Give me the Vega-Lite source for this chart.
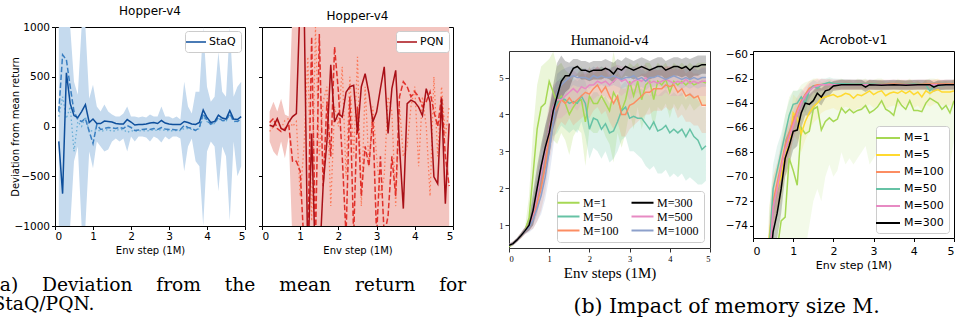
{
"$schema": "https://vega.github.io/schema/vega-lite/v6.json",
"background": "white",
"padding": {"left": -8, "top": 4, "right": 0, "bottom": 0},
"config": {
  "font": "DejaVu Sans",
  "view": {"stroke": "black", "strokeWidth": 1},
  "axis": {"grid": false, "domain": false, "tickColor": "black", "labelColor": "black", "titleColor": "black", "titleFontWeight": "normal", "tickSize": 3.5, "labelPadding": 2, "titlePadding": 3, "labelFont": "DejaVu Sans", "titleFont": "DejaVu Sans", "labelOverlap": false},
  "title": {"fontWeight": "normal", "color": "black", "font": "DejaVu Sans"},
  "legend": {"labelFont": "DejaVu Sans", "labelColor": "black"}
},
"resolve": {"scale": {"color": "independent"}, "legend": {"color": "independent"}},
"datasets": {
"staq": [
{"x":0.1,"s":-150,"d":150,"t":100,"lo":-1000,"hi":1000},
{"x":0.2,"s":-675,"d":720,"t":300,"lo":-1000,"hi":1000},
{"x":0.3,"s":540,"d":670,"t":80,"lo":-1000,"hi":1000},
{"x":0.4,"s":230,"d":400,"t":200,"lo":-1000,"hi":1000},
{"x":0.5,"s":110,"d":150,"t":-250,"lo":-350,"hi":450},
{"x":0.6,"s":90,"d":70,"t":50,"lo":-200,"hi":320},
{"x":0.7,"s":150,"d":50,"t":0,"lo":-1000,"hi":1000},
{"x":0.8,"s":220,"d":80,"t":100,"lo":-1000,"hi":1000},
{"x":0.9,"s":40,"d":-50,"t":-50,"lo":-250,"hi":280},
{"x":1.0,"s":75,"d":-170,"t":-40,"lo":-420,"hi":420},
{"x":1.1,"s":30,"d":20,"t":-30,"lo":-150,"hi":200},
{"x":1.2,"s":30,"d":-30,"t":-50,"lo":-200,"hi":150},
{"x":1.3,"s":55,"d":-20,"t":-40,"lo":-250,"hi":220},
{"x":1.4,"s":50,"d":-10,"t":-30,"lo":-230,"hi":150},
{"x":1.5,"s":45,"d":-15,"t":-50,"lo":-150,"hi":120},
{"x":1.6,"s":30,"d":-20,"t":-40,"lo":-120,"hi":100},
{"x":1.7,"s":25,"d":-10,"t":-30,"lo":-150,"hi":100},
{"x":1.8,"s":25,"d":-20,"t":-30,"lo":-120,"hi":130},
{"x":1.9,"s":70,"d":10,"t":-60,"lo":-250,"hi":200},
{"x":2.0,"s":45,"d":-10,"t":-40,"lo":-100,"hi":100},
{"x":2.1,"s":15,"d":-40,"t":-50,"lo":-150,"hi":100},
{"x":2.2,"s":20,"d":-35,"t":-45,"lo":-100,"hi":90},
{"x":2.3,"s":20,"d":-30,"t":-40,"lo":-100,"hi":100},
{"x":2.4,"s":25,"d":-25,"t":-45,"lo":-110,"hi":90},
{"x":2.5,"s":35,"d":-30,"t":-40,"lo":-150,"hi":120},
{"x":2.6,"s":40,"d":-20,"t":-35,"lo":-100,"hi":100},
{"x":2.7,"s":30,"d":-30,"t":-40,"lo":-120,"hi":100},
{"x":2.8,"s":60,"d":-10,"t":-30,"lo":-160,"hi":200},
{"x":2.9,"s":35,"d":-25,"t":-40,"lo":-100,"hi":100},
{"x":3.0,"s":25,"d":-30,"t":-40,"lo":-130,"hi":100},
{"x":3.1,"s":20,"d":-30,"t":-45,"lo":-100,"hi":80},
{"x":3.2,"s":20,"d":-35,"t":-40,"lo":-100,"hi":100},
{"x":3.3,"s":20,"d":-30,"t":-40,"lo":-120,"hi":70},
{"x":3.4,"s":50,"d":10,"t":-20,"lo":-450,"hi":450},
{"x":3.5,"s":40,"d":-10,"t":-20,"lo":-200,"hi":200},
{"x":3.6,"s":25,"d":-20,"t":-30,"lo":-120,"hi":130},
{"x":3.7,"s":20,"d":-40,"t":-40,"lo":-350,"hi":350},
{"x":3.8,"s":40,"d":-10,"t":-20,"lo":-400,"hi":350},
{"x":3.9,"s":165,"d":130,"t":100,"lo":-1000,"hi":1000},
{"x":4.0,"s":90,"d":60,"t":50,"lo":-250,"hi":400},
{"x":4.1,"s":40,"d":25,"t":20,"lo":-150,"hi":250},
{"x":4.2,"s":50,"d":40,"t":30,"lo":-200,"hi":300},
{"x":4.3,"s":115,"d":90,"t":80,"lo":-650,"hi":750},
{"x":4.4,"s":85,"d":60,"t":60,"lo":-200,"hi":350},
{"x":4.5,"s":75,"d":60,"t":50,"lo":-300,"hi":300},
{"x":4.6,"s":160,"d":130,"t":120,"lo":-950,"hi":1000},
{"x":4.7,"s":75,"d":55,"t":50,"lo":-150,"hi":300},
{"x":4.8,"s":70,"d":50,"t":50,"lo":-500,"hi":400},
{"x":4.9,"s":100,"d":80,"t":70,"lo":-400,"hi":450}
],
"pqn": [
{"x":0.2,"s":12,"d":40,"t":-50,"lo":-150,"hi":150},
{"x":0.3,"s":0,"d":80,"t":0,"lo":-250,"hi":250},
{"x":0.4,"s":80,"d":-20,"t":50,"lo":-300,"hi":150},
{"x":0.5,"s":-20,"d":-50,"t":-20,"lo":-150,"hi":280},
{"x":0.6,"s":-40,"d":-20,"t":60,"lo":-320,"hi":120},
{"x":0.7,"s":45,"d":20,"t":80,"lo":-100,"hi":100},
{"x":0.8,"s":100,"d":-350,"t":0,"lo":-1200,"hi":1200},
{"x":0.9,"s":130,"d":-350,"t":50,"lo":-1200,"hi":1200},
{"x":1.0,"s":1300,"d":-450,"t":-700,"lo":-1200,"hi":1200},
{"x":1.1,"s":1300,"d":-1200,"t":-200,"lo":-1200,"hi":1200},
{"x":1.2,"s":-1400,"d":-1200,"t":700,"lo":-1200,"hi":1200},
{"x":1.3,"s":-70,"d":900,"t":-950,"lo":-1200,"hi":1200},
{"x":1.4,"s":-1400,"d":-1200,"t":1000,"lo":-1200,"hi":1200},
{"x":1.5,"s":-1400,"d":930,"t":-300,"lo":-1200,"hi":1200},
{"x":1.6,"s":-600,"d":-600,"t":250,"lo":-1200,"hi":1200},
{"x":1.7,"s":-150,"d":250,"t":400,"lo":-1200,"hi":1200},
{"x":1.8,"s":620,"d":-300,"t":-800,"lo":-1200,"hi":1200},
{"x":1.9,"s":45,"d":800,"t":200,"lo":-1200,"hi":1200},
{"x":2.0,"s":130,"d":350,"t":0,"lo":-1200,"hi":1200},
{"x":2.1,"s":95,"d":-300,"t":600,"lo":-1200,"hi":1200},
{"x":2.2,"s":345,"d":-1100,"t":-500,"lo":-1200,"hi":1200},
{"x":2.3,"s":400,"d":300,"t":500,"lo":-1200,"hi":1200},
{"x":2.4,"s":415,"d":-1100,"t":-300,"lo":-1200,"hi":1200},
{"x":2.5,"s":-70,"d":200,"t":700,"lo":-1200,"hi":1200},
{"x":2.6,"s":400,"d":-700,"t":-800,"lo":-1200,"hi":1200},
{"x":2.7,"s":530,"d":-200,"t":400,"lo":-1200,"hi":1200},
{"x":2.8,"s":330,"d":-400,"t":-400,"lo":-1200,"hi":1200},
{"x":2.9,"s":45,"d":100,"t":200,"lo":-1200,"hi":1200},
{"x":3.0,"s":145,"d":-1100,"t":-300,"lo":-1200,"hi":1200},
{"x":3.1,"s":380,"d":-300,"t":-700,"lo":-1200,"hi":1200},
{"x":3.2,"s":600,"d":-1100,"t":-500,"lo":-1200,"hi":1200},
{"x":3.3,"s":-70,"d":-900,"t":300,"lo":-1200,"hi":1200},
{"x":3.4,"s":380,"d":-300,"t":150,"lo":-1200,"hi":1200},
{"x":3.5,"s":565,"d":-700,"t":-800,"lo":-1200,"hi":1200},
{"x":3.6,"s":-205,"d":300,"t":200,"lo":-1200,"hi":1200},
{"x":3.7,"s":-825,"d":450,"t":-300,"lo":-1200,"hi":1200},
{"x":3.8,"s":230,"d":400,"t":-200,"lo":-1200,"hi":1200},
{"x":3.9,"s":265,"d":300,"t":200,"lo":-1200,"hi":1200},
{"x":4.0,"s":245,"d":350,"t":400,"lo":-1200,"hi":1200},
{"x":4.1,"s":195,"d":300,"t":-400,"lo":-1200,"hi":1200},
{"x":4.2,"s":110,"d":200,"t":300,"lo":-1200,"hi":1200},
{"x":4.3,"s":380,"d":250,"t":0,"lo":-1200,"hi":1200},
{"x":4.4,"s":245,"d":350,"t":-700,"lo":-1200,"hi":1200},
{"x":4.5,"s":-505,"d":150,"t":500,"lo":-1200,"hi":1200},
{"x":4.6,"s":-575,"d":0,"t":-300,"lo":-1200,"hi":1200},
{"x":4.7,"s":280,"d":300,"t":400,"lo":-1200,"hi":1200},
{"x":4.8,"s":-775,"d":-300,"t":-100,"lo":-1200,"hi":1200},
{"x":4.9,"s":30,"d":-600,"t":200,"lo":-1200,"hi":1200}
],
"hum": [
{"m":"M=1","x":0.0,"y":0.42,"lo":0.38,"hi":0.46},
{"m":"M=1","x":0.1,"y":0.5,"lo":0.45,"hi":0.55},
{"m":"M=1","x":0.2,"y":0.6,"lo":0.55,"hi":0.66},
{"m":"M=1","x":0.3,"y":0.72,"lo":0.65,"hi":0.8},
{"m":"M=1","x":0.4,"y":0.85,"lo":0.78,"hi":0.95},
{"m":"M=1","x":0.5,"y":1.2,"lo":0.9,"hi":1.8},
{"m":"M=1","x":0.6,"y":2.4,"lo":1.3,"hi":3.6},
{"m":"M=1","x":0.7,"y":3.6,"lo":2.2,"hi":4.8},
{"m":"M=1","x":0.8,"y":4.2,"lo":3.0,"hi":5.3},
{"m":"M=1","x":0.9,"y":4.3,"lo":3.2,"hi":5.4},
{"m":"M=1","x":1.0,"y":4.9,"lo":3.6,"hi":5.5},
{"m":"M=1","x":1.1,"y":4.6,"lo":3.3,"hi":5.7},
{"m":"M=1","x":1.2,"y":4.3,"lo":3.2,"hi":5.3},
{"m":"M=1","x":1.3,"y":4.5,"lo":3.5,"hi":5.4},
{"m":"M=1","x":1.4,"y":4.3,"lo":3.3,"hi":5.2},
{"m":"M=1","x":1.5,"y":4.0,"lo":2.9,"hi":5.1},
{"m":"M=1","x":1.6,"y":4.2,"lo":3.4,"hi":5.0},
{"m":"M=1","x":1.7,"y":4.35,"lo":3.6,"hi":5.1},
{"m":"M=1","x":1.8,"y":4.4,"lo":3.5,"hi":5.3},
{"m":"M=1","x":1.9,"y":3.8,"lo":2.6,"hi":5.0},
{"m":"M=1","x":2.0,"y":4.5,"lo":3.6,"hi":5.3},
{"m":"M=1","x":2.1,"y":4.3,"lo":3.5,"hi":5.1},
{"m":"M=1","x":2.2,"y":4.3,"lo":3.5,"hi":5.2},
{"m":"M=1","x":2.3,"y":4.5,"lo":3.7,"hi":5.3},
{"m":"M=1","x":2.4,"y":4.3,"lo":3.4,"hi":5.2},
{"m":"M=1","x":2.5,"y":4.1,"lo":3.2,"hi":5.0},
{"m":"M=1","x":2.6,"y":4.6,"lo":2.7,"hi":5.7},
{"m":"M=1","x":2.7,"y":4.4,"lo":3.5,"hi":5.2},
{"m":"M=1","x":2.8,"y":4.1,"lo":3.1,"hi":5.0},
{"m":"M=1","x":2.9,"y":4.4,"lo":3.5,"hi":5.2},
{"m":"M=1","x":3.0,"y":4.9,"lo":4.1,"hi":5.4},
{"m":"M=1","x":3.1,"y":4.5,"lo":3.6,"hi":5.3},
{"m":"M=1","x":3.2,"y":4.9,"lo":4.2,"hi":5.4},
{"m":"M=1","x":3.3,"y":4.4,"lo":3.6,"hi":5.2},
{"m":"M=1","x":3.4,"y":4.8,"lo":4.0,"hi":5.4},
{"m":"M=1","x":3.5,"y":4.9,"lo":4.2,"hi":5.4},
{"m":"M=1","x":3.6,"y":4.4,"lo":3.6,"hi":5.2},
{"m":"M=1","x":3.7,"y":4.9,"lo":4.2,"hi":5.4},
{"m":"M=1","x":3.8,"y":4.8,"lo":4.1,"hi":5.3},
{"m":"M=1","x":3.9,"y":4.95,"lo":4.3,"hi":5.4},
{"m":"M=1","x":4.0,"y":4.6,"lo":3.9,"hi":5.2},
{"m":"M=1","x":4.1,"y":4.9,"lo":4.3,"hi":5.4},
{"m":"M=1","x":4.2,"y":4.8,"lo":4.1,"hi":5.3},
{"m":"M=1","x":4.3,"y":4.9,"lo":4.3,"hi":5.4},
{"m":"M=1","x":4.4,"y":4.8,"lo":4.1,"hi":5.3},
{"m":"M=1","x":4.5,"y":4.9,"lo":4.3,"hi":5.4},
{"m":"M=1","x":4.6,"y":4.8,"lo":4.1,"hi":5.3},
{"m":"M=1","x":4.7,"y":4.85,"lo":4.2,"hi":5.4},
{"m":"M=1","x":4.8,"y":4.9,"lo":4.3,"hi":5.4},
{"m":"M=1","x":4.9,"y":4.85,"lo":4.2,"hi":5.4},
{"m":"M=50","x":0.0,"y":0.45,"lo":0.4,"hi":0.5},
{"m":"M=50","x":0.1,"y":0.5,"lo":0.45,"hi":0.55},
{"m":"M=50","x":0.2,"y":0.6,"lo":0.55,"hi":0.65},
{"m":"M=50","x":0.3,"y":0.72,"lo":0.66,"hi":0.78},
{"m":"M=50","x":0.4,"y":0.85,"lo":0.78,"hi":0.92},
{"m":"M=50","x":0.5,"y":1.0,"lo":0.9,"hi":1.15},
{"m":"M=50","x":0.6,"y":1.3,"lo":1.0,"hi":1.7},
{"m":"M=50","x":0.7,"y":1.8,"lo":1.3,"hi":2.3},
{"m":"M=50","x":0.8,"y":2.4,"lo":1.8,"hi":3.0},
{"m":"M=50","x":0.9,"y":3.0,"lo":2.3,"hi":3.6},
{"m":"M=50","x":1.0,"y":3.6,"lo":2.9,"hi":4.2},
{"m":"M=50","x":1.1,"y":4.1,"lo":3.4,"hi":4.7},
{"m":"M=50","x":1.2,"y":4.3,"lo":3.5,"hi":4.9},
{"m":"M=50","x":1.3,"y":4.45,"lo":3.7,"hi":5.0},
{"m":"M=50","x":1.4,"y":4.4,"lo":3.6,"hi":5.0},
{"m":"M=50","x":1.5,"y":4.3,"lo":3.5,"hi":4.9},
{"m":"M=50","x":1.6,"y":4.35,"lo":3.6,"hi":5.0},
{"m":"M=50","x":1.7,"y":4.3,"lo":3.5,"hi":4.9},
{"m":"M=50","x":1.8,"y":4.5,"lo":3.8,"hi":5.0},
{"m":"M=50","x":1.9,"y":4.3,"lo":3.4,"hi":4.9},
{"m":"M=50","x":2.0,"y":3.6,"lo":2.8,"hi":4.4},
{"m":"M=50","x":2.1,"y":3.9,"lo":3.1,"hi":4.6},
{"m":"M=50","x":2.2,"y":3.85,"lo":3.0,"hi":4.6},
{"m":"M=50","x":2.3,"y":3.6,"lo":2.8,"hi":4.4},
{"m":"M=50","x":2.4,"y":3.75,"lo":3.0,"hi":4.5},
{"m":"M=50","x":2.5,"y":3.5,"lo":2.7,"hi":4.3},
{"m":"M=50","x":2.6,"y":3.55,"lo":2.8,"hi":4.3},
{"m":"M=50","x":2.7,"y":3.8,"lo":3.0,"hi":4.5},
{"m":"M=50","x":2.8,"y":4.1,"lo":3.3,"hi":4.8},
{"m":"M=50","x":2.9,"y":4.2,"lo":3.4,"hi":4.9},
{"m":"M=50","x":3.0,"y":3.9,"lo":3.0,"hi":4.7},
{"m":"M=50","x":3.1,"y":3.95,"lo":3.0,"hi":4.7},
{"m":"M=50","x":3.2,"y":3.9,"lo":2.9,"hi":4.7},
{"m":"M=50","x":3.3,"y":3.9,"lo":2.8,"hi":4.7},
{"m":"M=50","x":3.4,"y":3.75,"lo":2.6,"hi":4.6},
{"m":"M=50","x":3.5,"y":3.6,"lo":2.5,"hi":4.5},
{"m":"M=50","x":3.6,"y":3.8,"lo":2.6,"hi":4.7},
{"m":"M=50","x":3.7,"y":3.55,"lo":2.4,"hi":4.5},
{"m":"M=50","x":3.8,"y":3.6,"lo":2.4,"hi":4.6},
{"m":"M=50","x":3.9,"y":3.7,"lo":2.5,"hi":4.7},
{"m":"M=50","x":4.0,"y":3.5,"lo":2.3,"hi":4.5},
{"m":"M=50","x":4.1,"y":3.6,"lo":2.4,"hi":4.6},
{"m":"M=50","x":4.2,"y":3.5,"lo":2.3,"hi":4.5},
{"m":"M=50","x":4.3,"y":3.6,"lo":2.4,"hi":4.6},
{"m":"M=50","x":4.4,"y":3.4,"lo":2.2,"hi":4.4},
{"m":"M=50","x":4.5,"y":3.6,"lo":2.3,"hi":4.6},
{"m":"M=50","x":4.6,"y":3.4,"lo":2.2,"hi":4.5},
{"m":"M=50","x":4.7,"y":3.3,"lo":2.1,"hi":4.4},
{"m":"M=50","x":4.8,"y":3.05,"lo":2.1,"hi":4.2},
{"m":"M=50","x":4.9,"y":3.15,"lo":2.2,"hi":4.2},
{"m":"M=100","x":0.0,"y":0.45,"lo":0.4,"hi":0.5},
{"m":"M=100","x":0.1,"y":0.5,"lo":0.45,"hi":0.56},
{"m":"M=100","x":0.2,"y":0.6,"lo":0.54,"hi":0.66},
{"m":"M=100","x":0.3,"y":0.72,"lo":0.64,"hi":0.8},
{"m":"M=100","x":0.4,"y":0.85,"lo":0.75,"hi":0.95},
{"m":"M=100","x":0.5,"y":1.0,"lo":0.85,"hi":1.2},
{"m":"M=100","x":0.6,"y":1.2,"lo":0.9,"hi":1.5},
{"m":"M=100","x":0.7,"y":1.6,"lo":1.1,"hi":2.1},
{"m":"M=100","x":0.8,"y":2.0,"lo":1.4,"hi":2.6},
{"m":"M=100","x":0.9,"y":2.6,"lo":1.9,"hi":3.3},
{"m":"M=100","x":1.0,"y":3.5,"lo":2.7,"hi":4.2},
{"m":"M=100","x":1.1,"y":4.0,"lo":3.3,"hi":4.6},
{"m":"M=100","x":1.2,"y":4.2,"lo":3.6,"hi":4.7},
{"m":"M=100","x":1.3,"y":4.4,"lo":3.8,"hi":4.9},
{"m":"M=100","x":1.4,"y":4.3,"lo":3.7,"hi":4.9},
{"m":"M=100","x":1.5,"y":4.45,"lo":3.9,"hi":5.0},
{"m":"M=100","x":1.6,"y":4.3,"lo":3.7,"hi":4.9},
{"m":"M=100","x":1.7,"y":4.4,"lo":3.8,"hi":5.0},
{"m":"M=100","x":1.8,"y":4.5,"lo":3.9,"hi":5.1},
{"m":"M=100","x":1.9,"y":4.6,"lo":4.0,"hi":5.1},
{"m":"M=100","x":2.0,"y":4.55,"lo":3.9,"hi":5.1},
{"m":"M=100","x":2.1,"y":4.7,"lo":4.1,"hi":5.2},
{"m":"M=100","x":2.2,"y":4.8,"lo":4.2,"hi":5.3},
{"m":"M=100","x":2.3,"y":4.6,"lo":4.0,"hi":5.2},
{"m":"M=100","x":2.4,"y":4.75,"lo":4.1,"hi":5.3},
{"m":"M=100","x":2.5,"y":4.5,"lo":3.8,"hi":5.1},
{"m":"M=100","x":2.6,"y":4.3,"lo":3.6,"hi":5.0},
{"m":"M=100","x":2.7,"y":4.5,"lo":3.8,"hi":5.1},
{"m":"M=100","x":2.8,"y":4.0,"lo":3.4,"hi":4.7},
{"m":"M=100","x":2.9,"y":4.0,"lo":3.4,"hi":4.7},
{"m":"M=100","x":3.0,"y":4.25,"lo":3.6,"hi":4.9},
{"m":"M=100","x":3.1,"y":4.3,"lo":3.7,"hi":4.9},
{"m":"M=100","x":3.2,"y":4.4,"lo":3.8,"hi":5.0},
{"m":"M=100","x":3.3,"y":4.5,"lo":3.9,"hi":5.1},
{"m":"M=100","x":3.4,"y":4.6,"lo":4.0,"hi":5.1},
{"m":"M=100","x":3.5,"y":4.6,"lo":4.0,"hi":5.2},
{"m":"M=100","x":3.6,"y":4.7,"lo":4.1,"hi":5.2},
{"m":"M=100","x":3.7,"y":4.7,"lo":4.1,"hi":5.2},
{"m":"M=100","x":3.8,"y":4.7,"lo":4.1,"hi":5.2},
{"m":"M=100","x":3.9,"y":4.8,"lo":4.2,"hi":5.3},
{"m":"M=100","x":4.0,"y":4.75,"lo":4.1,"hi":5.3},
{"m":"M=100","x":4.1,"y":4.8,"lo":4.2,"hi":5.3},
{"m":"M=100","x":4.2,"y":4.6,"lo":3.9,"hi":5.2},
{"m":"M=100","x":4.3,"y":4.7,"lo":4.0,"hi":5.3},
{"m":"M=100","x":4.4,"y":4.5,"lo":3.8,"hi":5.1},
{"m":"M=100","x":4.5,"y":4.55,"lo":3.8,"hi":5.2},
{"m":"M=100","x":4.6,"y":4.45,"lo":3.7,"hi":5.1},
{"m":"M=100","x":4.7,"y":4.5,"lo":3.7,"hi":5.1},
{"m":"M=100","x":4.8,"y":4.25,"lo":3.5,"hi":5.0},
{"m":"M=100","x":4.9,"y":4.25,"lo":3.5,"hi":5.0},
{"m":"M=500","x":0.0,"y":0.45,"lo":0.4,"hi":0.5},
{"m":"M=500","x":0.1,"y":0.5,"lo":0.45,"hi":0.56},
{"m":"M=500","x":0.2,"y":0.6,"lo":0.54,"hi":0.66},
{"m":"M=500","x":0.3,"y":0.72,"lo":0.65,"hi":0.8},
{"m":"M=500","x":0.4,"y":0.85,"lo":0.76,"hi":0.95},
{"m":"M=500","x":0.5,"y":1.0,"lo":0.85,"hi":1.2},
{"m":"M=500","x":0.6,"y":1.3,"lo":1.0,"hi":1.7},
{"m":"M=500","x":0.7,"y":1.8,"lo":1.3,"hi":2.4},
{"m":"M=500","x":0.8,"y":2.4,"lo":1.8,"hi":3.1},
{"m":"M=500","x":0.9,"y":3.0,"lo":2.3,"hi":3.7},
{"m":"M=500","x":1.0,"y":3.6,"lo":2.9,"hi":4.3},
{"m":"M=500","x":1.1,"y":4.2,"lo":3.6,"hi":4.8},
{"m":"M=500","x":1.2,"y":4.4,"lo":3.9,"hi":4.9},
{"m":"M=500","x":1.3,"y":4.4,"lo":3.9,"hi":4.9},
{"m":"M=500","x":1.4,"y":4.5,"lo":4.0,"hi":5.0},
{"m":"M=500","x":1.5,"y":4.6,"lo":4.1,"hi":5.1},
{"m":"M=500","x":1.6,"y":4.7,"lo":4.2,"hi":5.2},
{"m":"M=500","x":1.7,"y":4.6,"lo":4.1,"hi":5.1},
{"m":"M=500","x":1.8,"y":4.75,"lo":4.3,"hi":5.2},
{"m":"M=500","x":1.9,"y":4.7,"lo":4.2,"hi":5.2},
{"m":"M=500","x":2.0,"y":4.8,"lo":4.3,"hi":5.25},
{"m":"M=500","x":2.1,"y":4.8,"lo":4.4,"hi":5.2},
{"m":"M=500","x":2.2,"y":4.9,"lo":4.5,"hi":5.3},
{"m":"M=500","x":2.3,"y":4.85,"lo":4.5,"hi":5.2},
{"m":"M=500","x":2.4,"y":4.9,"lo":4.5,"hi":5.3},
{"m":"M=500","x":2.5,"y":4.8,"lo":4.4,"hi":5.2},
{"m":"M=500","x":2.6,"y":4.9,"lo":4.5,"hi":5.3},
{"m":"M=500","x":2.7,"y":5.0,"lo":4.6,"hi":5.35},
{"m":"M=500","x":2.8,"y":4.9,"lo":4.5,"hi":5.3},
{"m":"M=500","x":2.9,"y":4.95,"lo":4.6,"hi":5.3},
{"m":"M=500","x":3.0,"y":4.8,"lo":4.4,"hi":5.2},
{"m":"M=500","x":3.1,"y":4.9,"lo":4.5,"hi":5.3},
{"m":"M=500","x":3.2,"y":4.95,"lo":4.6,"hi":5.3},
{"m":"M=500","x":3.3,"y":4.9,"lo":4.5,"hi":5.3},
{"m":"M=500","x":3.4,"y":5.0,"lo":4.6,"hi":5.35},
{"m":"M=500","x":3.5,"y":4.85,"lo":4.5,"hi":5.2},
{"m":"M=500","x":3.6,"y":4.9,"lo":4.5,"hi":5.3},
{"m":"M=500","x":3.7,"y":4.85,"lo":4.5,"hi":5.2},
{"m":"M=500","x":3.8,"y":4.9,"lo":4.5,"hi":5.3},
{"m":"M=500","x":3.9,"y":4.95,"lo":4.6,"hi":5.3},
{"m":"M=500","x":4.0,"y":4.9,"lo":4.5,"hi":5.3},
{"m":"M=500","x":4.1,"y":4.85,"lo":4.5,"hi":5.2},
{"m":"M=500","x":4.2,"y":4.9,"lo":4.5,"hi":5.3},
{"m":"M=500","x":4.3,"y":4.85,"lo":4.5,"hi":5.2},
{"m":"M=500","x":4.4,"y":4.95,"lo":4.6,"hi":5.3},
{"m":"M=500","x":4.5,"y":4.85,"lo":4.5,"hi":5.2},
{"m":"M=500","x":4.6,"y":4.9,"lo":4.5,"hi":5.3},
{"m":"M=500","x":4.7,"y":4.85,"lo":4.5,"hi":5.2},
{"m":"M=500","x":4.8,"y":4.9,"lo":4.5,"hi":5.3},
{"m":"M=500","x":4.9,"y":4.9,"lo":4.5,"hi":5.3},
{"m":"M=1000","x":0.0,"y":0.45,"lo":0.4,"hi":0.5},
{"m":"M=1000","x":0.1,"y":0.5,"lo":0.45,"hi":0.56},
{"m":"M=1000","x":0.2,"y":0.6,"lo":0.54,"hi":0.66},
{"m":"M=1000","x":0.3,"y":0.72,"lo":0.65,"hi":0.8},
{"m":"M=1000","x":0.4,"y":0.85,"lo":0.76,"hi":0.95},
{"m":"M=1000","x":0.5,"y":0.95,"lo":0.8,"hi":1.1},
{"m":"M=1000","x":0.6,"y":1.15,"lo":0.9,"hi":1.5},
{"m":"M=1000","x":0.7,"y":1.45,"lo":1.1,"hi":1.9},
{"m":"M=1000","x":0.8,"y":1.8,"lo":1.3,"hi":2.4},
{"m":"M=1000","x":0.9,"y":2.3,"lo":1.7,"hi":2.9},
{"m":"M=1000","x":1.0,"y":3.0,"lo":2.3,"hi":3.7},
{"m":"M=1000","x":1.1,"y":3.8,"lo":3.1,"hi":4.5},
{"m":"M=1000","x":1.2,"y":4.6,"lo":4.0,"hi":5.1},
{"m":"M=1000","x":1.3,"y":4.8,"lo":4.3,"hi":5.2},
{"m":"M=1000","x":1.4,"y":4.9,"lo":4.5,"hi":5.25},
{"m":"M=1000","x":1.5,"y":5.0,"lo":4.7,"hi":5.3},
{"m":"M=1000","x":1.6,"y":5.05,"lo":4.8,"hi":5.3},
{"m":"M=1000","x":1.7,"y":5.0,"lo":4.75,"hi":5.25},
{"m":"M=1000","x":1.8,"y":5.0,"lo":4.75,"hi":5.25},
{"m":"M=1000","x":1.9,"y":5.0,"lo":4.75,"hi":5.25},
{"m":"M=1000","x":2.0,"y":4.95,"lo":4.7,"hi":5.2},
{"m":"M=1000","x":2.1,"y":5.05,"lo":4.8,"hi":5.3},
{"m":"M=1000","x":2.2,"y":5.0,"lo":4.75,"hi":5.25},
{"m":"M=1000","x":2.3,"y":5.05,"lo":4.8,"hi":5.3},
{"m":"M=1000","x":2.4,"y":5.0,"lo":4.75,"hi":5.25},
{"m":"M=1000","x":2.5,"y":5.0,"lo":4.75,"hi":5.25},
{"m":"M=1000","x":2.6,"y":5.05,"lo":4.8,"hi":5.3},
{"m":"M=1000","x":2.7,"y":5.0,"lo":4.75,"hi":5.25},
{"m":"M=1000","x":2.8,"y":4.95,"lo":4.7,"hi":5.2},
{"m":"M=1000","x":2.9,"y":5.0,"lo":4.75,"hi":5.25},
{"m":"M=1000","x":3.0,"y":5.0,"lo":4.75,"hi":5.25},
{"m":"M=1000","x":3.1,"y":5.05,"lo":4.8,"hi":5.3},
{"m":"M=1000","x":3.2,"y":4.95,"lo":4.7,"hi":5.2},
{"m":"M=1000","x":3.3,"y":5.0,"lo":4.75,"hi":5.25},
{"m":"M=1000","x":3.4,"y":4.9,"lo":4.65,"hi":5.15},
{"m":"M=1000","x":3.5,"y":5.0,"lo":4.75,"hi":5.25},
{"m":"M=1000","x":3.6,"y":5.0,"lo":4.75,"hi":5.25},
{"m":"M=1000","x":3.7,"y":5.05,"lo":4.8,"hi":5.3},
{"m":"M=1000","x":3.8,"y":5.0,"lo":4.75,"hi":5.25},
{"m":"M=1000","x":3.9,"y":4.95,"lo":4.7,"hi":5.2},
{"m":"M=1000","x":4.0,"y":5.0,"lo":4.75,"hi":5.25},
{"m":"M=1000","x":4.1,"y":5.05,"lo":4.8,"hi":5.3},
{"m":"M=1000","x":4.2,"y":5.0,"lo":4.75,"hi":5.25},
{"m":"M=1000","x":4.3,"y":4.95,"lo":4.7,"hi":5.2},
{"m":"M=1000","x":4.4,"y":5.0,"lo":4.75,"hi":5.25},
{"m":"M=1000","x":4.5,"y":4.95,"lo":4.7,"hi":5.2},
{"m":"M=1000","x":4.6,"y":5.0,"lo":4.75,"hi":5.25},
{"m":"M=1000","x":4.7,"y":4.95,"lo":4.7,"hi":5.2},
{"m":"M=1000","x":4.8,"y":5.0,"lo":4.75,"hi":5.25},
{"m":"M=1000","x":4.9,"y":5.0,"lo":4.75,"hi":5.25},
{"m":"M=300","x":0.0,"y":0.45,"lo":0.42,"hi":0.48},
{"m":"M=300","x":0.1,"y":0.5,"lo":0.46,"hi":0.54},
{"m":"M=300","x":0.2,"y":0.6,"lo":0.55,"hi":0.65},
{"m":"M=300","x":0.3,"y":0.72,"lo":0.66,"hi":0.78},
{"m":"M=300","x":0.4,"y":0.85,"lo":0.77,"hi":0.93},
{"m":"M=300","x":0.5,"y":1.0,"lo":0.85,"hi":1.2},
{"m":"M=300","x":0.6,"y":1.4,"lo":1.0,"hi":1.9},
{"m":"M=300","x":0.7,"y":2.0,"lo":1.5,"hi":2.6},
{"m":"M=300","x":0.8,"y":2.6,"lo":2.0,"hi":3.2},
{"m":"M=300","x":0.9,"y":3.1,"lo":2.5,"hi":3.7},
{"m":"M=300","x":1.0,"y":3.5,"lo":2.9,"hi":4.1},
{"m":"M=300","x":1.1,"y":4.1,"lo":3.6,"hi":4.8},
{"m":"M=300","x":1.2,"y":4.5,"lo":4.0,"hi":5.4},
{"m":"M=300","x":1.3,"y":4.9,"lo":4.4,"hi":5.6},
{"m":"M=300","x":1.4,"y":5.05,"lo":4.6,"hi":5.45},
{"m":"M=300","x":1.5,"y":5.05,"lo":4.7,"hi":5.4},
{"m":"M=300","x":1.6,"y":5.25,"lo":5.0,"hi":5.5},
{"m":"M=300","x":1.7,"y":5.3,"lo":5.05,"hi":5.5},
{"m":"M=300","x":1.8,"y":5.2,"lo":4.95,"hi":5.45},
{"m":"M=300","x":1.9,"y":5.2,"lo":4.95,"hi":5.45},
{"m":"M=300","x":2.0,"y":5.15,"lo":4.9,"hi":5.4},
{"m":"M=300","x":2.1,"y":5.2,"lo":4.95,"hi":5.45},
{"m":"M=300","x":2.2,"y":5.2,"lo":4.95,"hi":5.45},
{"m":"M=300","x":2.3,"y":5.2,"lo":4.95,"hi":5.45},
{"m":"M=300","x":2.4,"y":5.25,"lo":5.0,"hi":5.5},
{"m":"M=300","x":2.5,"y":5.2,"lo":4.95,"hi":5.45},
{"m":"M=300","x":2.6,"y":5.1,"lo":4.85,"hi":5.4},
{"m":"M=300","x":2.7,"y":5.25,"lo":5.0,"hi":5.5},
{"m":"M=300","x":2.8,"y":5.2,"lo":4.95,"hi":5.45},
{"m":"M=300","x":2.9,"y":5.3,"lo":5.05,"hi":5.55},
{"m":"M=300","x":3.0,"y":5.25,"lo":5.0,"hi":5.5},
{"m":"M=300","x":3.1,"y":5.2,"lo":4.95,"hi":5.45},
{"m":"M=300","x":3.2,"y":5.25,"lo":5.0,"hi":5.5},
{"m":"M=300","x":3.3,"y":5.3,"lo":5.05,"hi":5.55},
{"m":"M=300","x":3.4,"y":5.25,"lo":5.0,"hi":5.5},
{"m":"M=300","x":3.5,"y":5.2,"lo":4.95,"hi":5.45},
{"m":"M=300","x":3.6,"y":5.25,"lo":5.0,"hi":5.5},
{"m":"M=300","x":3.7,"y":5.3,"lo":5.05,"hi":5.55},
{"m":"M=300","x":3.8,"y":5.3,"lo":5.05,"hi":5.55},
{"m":"M=300","x":3.9,"y":5.2,"lo":4.95,"hi":5.45},
{"m":"M=300","x":4.0,"y":5.25,"lo":5.0,"hi":5.5},
{"m":"M=300","x":4.1,"y":5.3,"lo":5.05,"hi":5.55},
{"m":"M=300","x":4.2,"y":5.3,"lo":5.05,"hi":5.55},
{"m":"M=300","x":4.3,"y":5.25,"lo":5.0,"hi":5.5},
{"m":"M=300","x":4.4,"y":5.3,"lo":5.05,"hi":5.55},
{"m":"M=300","x":4.5,"y":5.2,"lo":4.95,"hi":5.5},
{"m":"M=300","x":4.6,"y":5.3,"lo":5.05,"hi":5.55},
{"m":"M=300","x":4.7,"y":5.3,"lo":5.05,"hi":5.6},
{"m":"M=300","x":4.8,"y":5.35,"lo":5.1,"hi":5.6},
{"m":"M=300","x":4.9,"y":5.35,"lo":5.1,"hi":5.6}
],
"acro": [
{"m":"M=1","x":0.3,"y":-120,"lo":-200,"hi":-90},
{"m":"M=1","x":0.4,"y":-100,"lo":-150,"hi":-85},
{"m":"M=1","x":0.5,"y":-85,"lo":-110,"hi":-76},
{"m":"M=1","x":0.6,"y":-76,"lo":-95,"hi":-70},
{"m":"M=1","x":0.7,"y":-73.6,"lo":-90,"hi":-67},
{"m":"M=1","x":0.8,"y":-73.3,"lo":-85,"hi":-65},
{"m":"M=1","x":0.9,"y":-68.5,"lo":-80,"hi":-63.5},
{"m":"M=1","x":1.0,"y":-69.5,"lo":-78,"hi":-63},
{"m":"M=1","x":1.1,"y":-70.7,"lo":-80,"hi":-63},
{"m":"M=1","x":1.2,"y":-66.0,"lo":-75,"hi":-62.5},
{"m":"M=1","x":1.3,"y":-66.5,"lo":-76,"hi":-62.3},
{"m":"M=1","x":1.4,"y":-66.3,"lo":-74,"hi":-62.2},
{"m":"M=1","x":1.5,"y":-64.5,"lo":-72,"hi":-62.0},
{"m":"M=1","x":1.6,"y":-64.3,"lo":-71,"hi":-62.0},
{"m":"M=1","x":1.7,"y":-66.2,"lo":-72,"hi":-62.3},
{"m":"M=1","x":1.8,"y":-65.5,"lo":-70,"hi":-62.2},
{"m":"M=1","x":1.9,"y":-65.2,"lo":-69,"hi":-62.0},
{"m":"M=1","x":2.0,"y":-65.5,"lo":-70,"hi":-62.3},
{"m":"M=1","x":2.1,"y":-65.3,"lo":-69.5,"hi":-62.1},
{"m":"M=1","x":2.2,"y":-64.4,"lo":-68,"hi":-62.0},
{"m":"M=1","x":2.3,"y":-64.8,"lo":-69,"hi":-62.2},
{"m":"M=1","x":2.4,"y":-64.5,"lo":-68.5,"hi":-62.1},
{"m":"M=1","x":2.5,"y":-64.8,"lo":-69,"hi":-62.3},
{"m":"M=1","x":2.6,"y":-64.6,"lo":-68.5,"hi":-62.0},
{"m":"M=1","x":2.7,"y":-64.5,"lo":-68,"hi":-62.1},
{"m":"M=1","x":2.8,"y":-64.2,"lo":-67.5,"hi":-62.0},
{"m":"M=1","x":2.9,"y":-64.8,"lo":-69,"hi":-62.3},
{"m":"M=1","x":3.0,"y":-64.6,"lo":-68.5,"hi":-62.1},
{"m":"M=1","x":3.1,"y":-64.3,"lo":-68,"hi":-62.0},
{"m":"M=1","x":3.2,"y":-63.8,"lo":-67,"hi":-62.0},
{"m":"M=1","x":3.3,"y":-64.5,"lo":-68.5,"hi":-62.2},
{"m":"M=1","x":3.4,"y":-64.7,"lo":-69,"hi":-62.3},
{"m":"M=1","x":3.5,"y":-65.0,"lo":-70,"hi":-62.4},
{"m":"M=1","x":3.6,"y":-63.7,"lo":-67,"hi":-62.0},
{"m":"M=1","x":3.7,"y":-64.2,"lo":-68,"hi":-62.2},
{"m":"M=1","x":3.8,"y":-64.5,"lo":-69,"hi":-62.2},
{"m":"M=1","x":3.9,"y":-63.8,"lo":-67,"hi":-62.0},
{"m":"M=1","x":4.0,"y":-64.6,"lo":-68.5,"hi":-62.3},
{"m":"M=1","x":4.1,"y":-64.6,"lo":-68.5,"hi":-62.2},
{"m":"M=1","x":4.2,"y":-64.7,"lo":-69,"hi":-62.4},
{"m":"M=1","x":4.3,"y":-64.0,"lo":-67.5,"hi":-62.1},
{"m":"M=1","x":4.4,"y":-63.6,"lo":-67,"hi":-62.0},
{"m":"M=1","x":4.5,"y":-63.8,"lo":-67,"hi":-62.0},
{"m":"M=1","x":4.6,"y":-64.0,"lo":-67.5,"hi":-62.1},
{"m":"M=1","x":4.7,"y":-64.5,"lo":-68.5,"hi":-62.3},
{"m":"M=1","x":4.8,"y":-64.2,"lo":-68,"hi":-62.2},
{"m":"M=1","x":4.9,"y":-64.8,"lo":-69,"hi":-62.5},
{"m":"M=1","x":5.0,"y":-63.8,"lo":-67,"hi":-62.0},
{"m":"M=5","x":0.3,"y":-90,"lo":-100,"hi":-82},
{"m":"M=5","x":0.4,"y":-75,"lo":-78,"hi":-72.5},
{"m":"M=5","x":0.5,"y":-72,"lo":-74,"hi":-70},
{"m":"M=5","x":0.6,"y":-71,"lo":-73,"hi":-69},
{"m":"M=5","x":0.7,"y":-70,"lo":-72,"hi":-68},
{"m":"M=5","x":0.8,"y":-68,"lo":-70,"hi":-66.3},
{"m":"M=5","x":0.9,"y":-67.5,"lo":-69.5,"hi":-65.8},
{"m":"M=5","x":1.0,"y":-64.8,"lo":-66.5,"hi":-63.3},
{"m":"M=5","x":1.1,"y":-65.2,"lo":-67,"hi":-63.6},
{"m":"M=5","x":1.2,"y":-66.5,"lo":-68,"hi":-64.8},
{"m":"M=5","x":1.3,"y":-65.5,"lo":-67,"hi":-64},
{"m":"M=5","x":1.4,"y":-64.8,"lo":-66.3,"hi":-63.4},
{"m":"M=5","x":1.5,"y":-64.3,"lo":-65.6,"hi":-63.1},
{"m":"M=5","x":1.6,"y":-64.0,"lo":-65.3,"hi":-62.8},
{"m":"M=5","x":1.7,"y":-63.6,"lo":-64.8,"hi":-62.5},
{"m":"M=5","x":1.8,"y":-63.5,"lo":-64.6,"hi":-62.4},
{"m":"M=5","x":1.9,"y":-63.4,"lo":-64.5,"hi":-62.3},
{"m":"M=5","x":2.0,"y":-63.3,"lo":-64.4,"hi":-62.3},
{"m":"M=5","x":2.1,"y":-63.5,"lo":-64.6,"hi":-62.4},
{"m":"M=5","x":2.2,"y":-63.4,"lo":-64.5,"hi":-62.4},
{"m":"M=5","x":2.3,"y":-63.2,"lo":-64.3,"hi":-62.2},
{"m":"M=5","x":2.4,"y":-63.3,"lo":-64.4,"hi":-62.3},
{"m":"M=5","x":2.5,"y":-63.6,"lo":-64.7,"hi":-62.5},
{"m":"M=5","x":2.6,"y":-63.3,"lo":-64.4,"hi":-62.3},
{"m":"M=5","x":2.7,"y":-63.4,"lo":-64.5,"hi":-62.4},
{"m":"M=5","x":2.8,"y":-63.2,"lo":-64.3,"hi":-62.2},
{"m":"M=5","x":2.9,"y":-63.0,"lo":-64.1,"hi":-62.1},
{"m":"M=5","x":3.0,"y":-63.3,"lo":-64.4,"hi":-62.3},
{"m":"M=5","x":3.1,"y":-63.1,"lo":-64.2,"hi":-62.2},
{"m":"M=5","x":3.2,"y":-63.0,"lo":-64.1,"hi":-62.1},
{"m":"M=5","x":3.3,"y":-63.4,"lo":-64.5,"hi":-62.4},
{"m":"M=5","x":3.4,"y":-63.2,"lo":-64.3,"hi":-62.2},
{"m":"M=5","x":3.5,"y":-63.1,"lo":-64.2,"hi":-62.2},
{"m":"M=5","x":3.6,"y":-63.2,"lo":-64.3,"hi":-62.2},
{"m":"M=5","x":3.7,"y":-63.0,"lo":-64.1,"hi":-62.1},
{"m":"M=5","x":3.8,"y":-63.2,"lo":-64.3,"hi":-62.2},
{"m":"M=5","x":3.9,"y":-63.0,"lo":-64.1,"hi":-62.1},
{"m":"M=5","x":4.0,"y":-63.3,"lo":-64.4,"hi":-62.3},
{"m":"M=5","x":4.1,"y":-63.1,"lo":-64.2,"hi":-62.2},
{"m":"M=5","x":4.2,"y":-63.5,"lo":-64.6,"hi":-62.4},
{"m":"M=5","x":4.3,"y":-63.0,"lo":-64.1,"hi":-62.1},
{"m":"M=5","x":4.4,"y":-63.2,"lo":-64.3,"hi":-62.2},
{"m":"M=5","x":4.5,"y":-63.0,"lo":-64.1,"hi":-62.1},
{"m":"M=5","x":4.6,"y":-62.9,"lo":-64.0,"hi":-62.0},
{"m":"M=5","x":4.7,"y":-63.1,"lo":-64.2,"hi":-62.2},
{"m":"M=5","x":4.8,"y":-63.1,"lo":-64.2,"hi":-62.2},
{"m":"M=5","x":4.9,"y":-63.1,"lo":-64.2,"hi":-62.2},
{"m":"M=5","x":5.0,"y":-63.0,"lo":-64.1,"hi":-62.1},
{"m":"M=100","x":0.3,"y":-95,"lo":-105,"hi":-86},
{"m":"M=100","x":0.4,"y":-77,"lo":-80,"hi":-74},
{"m":"M=100","x":0.5,"y":-72,"lo":-74,"hi":-70},
{"m":"M=100","x":0.6,"y":-70.5,"lo":-72.5,"hi":-68.8},
{"m":"M=100","x":0.7,"y":-69,"lo":-71,"hi":-67.3},
{"m":"M=100","x":0.8,"y":-67.5,"lo":-69.2,"hi":-66},
{"m":"M=100","x":0.9,"y":-66.5,"lo":-68,"hi":-65.2},
{"m":"M=100","x":1.0,"y":-65.5,"lo":-66.8,"hi":-64.3},
{"m":"M=100","x":1.1,"y":-64.5,"lo":-65.6,"hi":-63.5},
{"m":"M=100","x":1.2,"y":-63.8,"lo":-64.7,"hi":-63},
{"m":"M=100","x":1.3,"y":-63.3,"lo":-64,"hi":-62.6},
{"m":"M=100","x":1.4,"y":-62.8,"lo":-63.4,"hi":-62.2},
{"m":"M=100","x":1.5,"y":-62.6,"lo":-63.1,"hi":-62.1},
{"m":"M=100","x":1.6,"y":-62.5,"lo":-63,"hi":-62},
{"m":"M=100","x":2.0,"y":-62.45,"lo":-62.85,"hi":-62.1},
{"m":"M=100","x":3.0,"y":-62.45,"lo":-62.85,"hi":-62.1},
{"m":"M=100","x":4.0,"y":-62.45,"lo":-62.85,"hi":-62.1},
{"m":"M=100","x":5.0,"y":-62.45,"lo":-62.85,"hi":-62.1},
{"m":"M=50","x":0.3,"y":-92,"lo":-100,"hi":-85},
{"m":"M=50","x":0.4,"y":-76,"lo":-80,"hi":-73},
{"m":"M=50","x":0.5,"y":-71,"lo":-73.5,"hi":-69},
{"m":"M=50","x":0.6,"y":-69.5,"lo":-71.5,"hi":-67.5},
{"m":"M=50","x":0.7,"y":-68,"lo":-70,"hi":-66.5},
{"m":"M=50","x":0.8,"y":-66.5,"lo":-68,"hi":-65},
{"m":"M=50","x":0.9,"y":-65,"lo":-66.5,"hi":-63.8},
{"m":"M=50","x":1.0,"y":-64.1,"lo":-65.2,"hi":-63},
{"m":"M=50","x":1.1,"y":-64,"lo":-65,"hi":-63},
{"m":"M=50","x":1.2,"y":-63.5,"lo":-64.3,"hi":-62.8},
{"m":"M=50","x":1.3,"y":-64,"lo":-64.8,"hi":-63.2},
{"m":"M=50","x":1.4,"y":-63,"lo":-63.7,"hi":-62.4},
{"m":"M=50","x":1.5,"y":-62.6,"lo":-63.1,"hi":-62.1},
{"m":"M=50","x":1.6,"y":-62.8,"lo":-63.3,"hi":-62.3},
{"m":"M=50","x":1.7,"y":-62.5,"lo":-63,"hi":-62},
{"m":"M=50","x":1.8,"y":-62.4,"lo":-62.9,"hi":-62},
{"m":"M=50","x":1.9,"y":-62.3,"lo":-62.7,"hi":-61.9},
{"m":"M=50","x":2.0,"y":-62.4,"lo":-62.8,"hi":-62},
{"m":"M=50","x":2.5,"y":-62.45,"lo":-62.8,"hi":-62.1},
{"m":"M=50","x":3.0,"y":-62.45,"lo":-62.8,"hi":-62.1},
{"m":"M=50","x":3.5,"y":-62.5,"lo":-62.85,"hi":-62.15},
{"m":"M=50","x":4.0,"y":-62.45,"lo":-62.8,"hi":-62.1},
{"m":"M=50","x":4.3,"y":-62.5,"lo":-62.85,"hi":-62.15},
{"m":"M=50","x":4.4,"y":-63.0,"lo":-63.4,"hi":-62.6},
{"m":"M=50","x":4.5,"y":-62.6,"lo":-62.95,"hi":-62.25},
{"m":"M=50","x":5.0,"y":-62.5,"lo":-62.85,"hi":-62.15},
{"m":"M=500","x":0.3,"y":-95,"lo":-105,"hi":-86},
{"m":"M=500","x":0.4,"y":-77.5,"lo":-80.5,"hi":-74.5},
{"m":"M=500","x":0.5,"y":-72.5,"lo":-74.5,"hi":-70.5},
{"m":"M=500","x":0.6,"y":-71,"lo":-73,"hi":-69.2},
{"m":"M=500","x":0.7,"y":-69.3,"lo":-71.2,"hi":-67.6},
{"m":"M=500","x":0.8,"y":-67.8,"lo":-69.5,"hi":-66.3},
{"m":"M=500","x":0.9,"y":-66.8,"lo":-68.3,"hi":-65.5},
{"m":"M=500","x":1.0,"y":-65.8,"lo":-67.1,"hi":-64.6},
{"m":"M=500","x":1.1,"y":-64.8,"lo":-65.9,"hi":-63.8},
{"m":"M=500","x":1.2,"y":-64,"lo":-64.9,"hi":-63.2},
{"m":"M=500","x":1.3,"y":-63.4,"lo":-64.1,"hi":-62.7},
{"m":"M=500","x":1.4,"y":-63,"lo":-63.6,"hi":-62.4},
{"m":"M=500","x":1.5,"y":-62.7,"lo":-63.2,"hi":-62.2},
{"m":"M=500","x":1.6,"y":-62.6,"lo":-63.1,"hi":-62.1},
{"m":"M=500","x":1.7,"y":-62.5,"lo":-63,"hi":-62.05},
{"m":"M=500","x":2.5,"y":-62.5,"lo":-62.9,"hi":-62.1},
{"m":"M=500","x":3.5,"y":-62.5,"lo":-62.9,"hi":-62.1},
{"m":"M=500","x":5.0,"y":-62.5,"lo":-62.9,"hi":-62.1},
{"m":"M=300","x":0.3,"y":-95,"lo":-110,"hi":-85},
{"m":"M=300","x":0.4,"y":-78,"lo":-82,"hi":-75},
{"m":"M=300","x":0.5,"y":-74.5,"lo":-76.5,"hi":-72.5},
{"m":"M=300","x":0.6,"y":-73,"lo":-75,"hi":-71},
{"m":"M=300","x":0.7,"y":-71,"lo":-73,"hi":-69.5},
{"m":"M=300","x":0.8,"y":-68.5,"lo":-70,"hi":-67},
{"m":"M=300","x":0.9,"y":-67.5,"lo":-69,"hi":-66.2},
{"m":"M=300","x":1.0,"y":-66.3,"lo":-67.8,"hi":-65},
{"m":"M=300","x":1.1,"y":-66.2,"lo":-67.5,"hi":-65},
{"m":"M=300","x":1.2,"y":-64.8,"lo":-66,"hi":-63.8},
{"m":"M=300","x":1.3,"y":-64,"lo":-65,"hi":-63.2},
{"m":"M=300","x":1.4,"y":-64.1,"lo":-65,"hi":-63.3},
{"m":"M=300","x":1.5,"y":-63.8,"lo":-64.6,"hi":-63},
{"m":"M=300","x":1.6,"y":-63.2,"lo":-63.9,"hi":-62.6},
{"m":"M=300","x":1.7,"y":-63.5,"lo":-64.2,"hi":-62.8},
{"m":"M=300","x":1.8,"y":-63,"lo":-63.6,"hi":-62.5},
{"m":"M=300","x":1.9,"y":-62.9,"lo":-63.4,"hi":-62.4},
{"m":"M=300","x":2.0,"y":-62.6,"lo":-63,"hi":-62.2},
{"m":"M=300","x":2.2,"y":-62.5,"lo":-62.9,"hi":-62.1},
{"m":"M=300","x":2.5,"y":-62.5,"lo":-62.9,"hi":-62.1},
{"m":"M=300","x":2.7,"y":-62.5,"lo":-62.9,"hi":-62.1},
{"m":"M=300","x":2.8,"y":-62.7,"lo":-63.1,"hi":-62.3},
{"m":"M=300","x":2.9,"y":-62.5,"lo":-62.9,"hi":-62.1},
{"m":"M=300","x":3.2,"y":-62.55,"lo":-62.95,"hi":-62.15},
{"m":"M=300","x":3.5,"y":-62.5,"lo":-62.9,"hi":-62.1},
{"m":"M=300","x":3.8,"y":-62.55,"lo":-62.95,"hi":-62.15},
{"m":"M=300","x":4.1,"y":-62.5,"lo":-62.9,"hi":-62.1},
{"m":"M=300","x":4.4,"y":-62.5,"lo":-62.9,"hi":-62.1},
{"m":"M=300","x":4.5,"y":-62.7,"lo":-63.1,"hi":-62.3},
{"m":"M=300","x":4.6,"y":-62.55,"lo":-62.95,"hi":-62.15},
{"m":"M=300","x":4.8,"y":-62.5,"lo":-62.9,"hi":-62.1},
{"m":"M=300","x":5.0,"y":-62.5,"lo":-62.9,"hi":-62.1}
]
},
"spacing": 31,
"hconcat": [
{
  "spacing": 11,
  "resolve": {"scale": {"color": "independent"}, "legend": {"color": "independent"}},
  "title": {"text": ["(a)\u00a0\u00a0\u00a0 Deviation\u00a0\u00a0\u00a0 from\u00a0\u00a0\u00a0 the\u00a0\u00a0\u00a0 mean\u00a0\u00a0\u00a0 return\u00a0\u00a0\u00a0 for", "StaQ/PQN."], "orient": "bottom", "anchor": "start", "font": "DejaVu Serif", "fontSize": 18.7, "fontWeight": "normal", "offset": 20, "lineHeight": 19.5, "dx": -17},
  "hconcat": [
  {
    "width": 190, "height": 199,
    "title": {"text": "Hopper-v4", "fontSize": 12, "fontWeight": "normal", "offset": 4},
    "data": {"name": "staq"},
    "encoding": {"x": {"field": "x", "type": "quantitative", "scale": {"domain": [0, 5], "nice": false}, "axis": {"values": [0,1,2,3,4,5], "title": "Env step (1M)", "labelFontSize": 10.5, "titleFontSize": 10}}},
    "layer": [
      {"mark": {"type": "area", "color": "#c5daee", "opacity": 1, "clip": true}, "encoding": {"y": {"field": "lo", "type": "quantitative", "title": "Deviation from mean return", "scale": {"domain": [-1000, 1000], "nice": false}, "axis": {"values": [-1000,-750,-500,-250,0,250,500,750,1000], "format": "d", "labelFontSize": 10.5, "titleFontSize": 10, "titleX": -35}}, "y2": {"field": "hi"}}},
      {"mark": {"type": "line", "clip": true, "strokeWidth": 1.3, "strokeDash": [1.5, 2.5], "color": "#6aaed6"}, "encoding": {"y": {"field": "t", "type": "quantitative", "title": "Deviation from mean return"}}},
      {"mark": {"type": "line", "clip": true, "strokeWidth": 1.5, "strokeDash": [5.5, 2.4], "color": "#3a7fc1"}, "encoding": {"y": {"field": "d", "type": "quantitative", "title": "Deviation from mean return"}}},
      {"mark": {"type": "line", "clip": true, "strokeWidth": 1.5}, "encoding": {"y": {"field": "s", "type": "quantitative", "title": "Deviation from mean return"}, "color": {"datum": "StaQ", "scale": {"domain": ["StaQ"], "range": ["#0e4f9c"]}, "legend": {"orient": "top-right", "title": null, "symbolType": "M-2,0H2", "symbolSize": 100, "symbolStrokeWidth": 1.5, "labelFontSize": 11, "labelOffset": 7, "strokeColor": "#cccccc", "fillColor": "white", "padding": 5, "cornerRadius": 3, "offset": 4}}}}
    ]
  },
  {
    "width": 191, "height": 199,
    "title": {"text": "Hopper-v4", "fontSize": 12, "fontWeight": "normal", "offset": 4},
    "data": {"name": "pqn"},
    "encoding": {"x": {"field": "x", "type": "quantitative", "scale": {"domain": [0, 5], "nice": false}, "axis": {"values": [0,1,2,3,4,5], "title": "Env step (1M)", "labelFontSize": 10.5, "titleFontSize": 10}}},
    "layer": [
      {"mark": {"type": "area", "color": "#f3c5c0", "opacity": 1, "clip": true}, "encoding": {"y": {"field": "lo", "type": "quantitative", "title": null, "scale": {"domain": [-1000, 1000], "nice": false}, "axis": {"values": [-1000,-750,-500,-250,0,250,500,750,1000], "labels": false}}, "y2": {"field": "hi"}}},
      {"mark": {"type": "line", "clip": true, "strokeWidth": 1.3, "strokeDash": [1.5, 2.5], "color": "#fb7a5a"}, "encoding": {"y": {"field": "t", "type": "quantitative", "title": null}}},
      {"mark": {"type": "line", "clip": true, "strokeWidth": 1.5, "strokeDash": [5.5, 2.4], "color": "#e0302a"}, "encoding": {"y": {"field": "d", "type": "quantitative", "title": null}}},
      {"mark": {"type": "line", "clip": true, "strokeWidth": 1.5}, "encoding": {"y": {"field": "s", "type": "quantitative", "title": null}, "color": {"datum": "PQN", "scale": {"domain": ["PQN"], "range": ["#a80f16"]}, "legend": {"orient": "top-right", "title": null, "symbolType": "M-2,0H2", "symbolSize": 100, "symbolStrokeWidth": 1.5, "labelFontSize": 11, "labelOffset": 7, "strokeColor": "#cccccc", "fillColor": "white", "padding": 5, "cornerRadius": 3, "offset": 4}}}}
    ]
  }
  ]
},
{
  "spacing": 0,
  "resolve": {"scale": {"color": "independent"}, "legend": {"color": "independent"}},
  "title": {"text": "(b) Impact of memory size M.", "orient": "bottom", "anchor": "middle", "font": "DejaVu Serif", "fontSize": 20.5, "fontWeight": "normal", "offset": 16},
  "vconcat": [
  {"width": 40, "height": 1, "data": {"values": [{"a": 1}]}, "mark": {"type": "text", "text": ""}, "view": {"stroke": null}},
  {
    "spacing": 13,
    "resolve": {"scale": {"color": "independent"}, "legend": {"color": "independent"}},
    "hconcat": [
    {
      "width": 201, "height": 197,
      "view": {"stroke": "#333333"},
      "title": {"text": "Humanoid-v4", "font": "Liberation Sans Narrow", "fontSize": 14, "fontWeight": "normal", "offset": 3},
      "data": {"name": "hum"},
      "encoding": {"x": {"field": "x", "type": "quantitative", "scale": {"domain": [0, 5], "nice": false}, "axis": {"values": [0,1,2,3,4,5], "title": "Env steps (1M)", "labelFont": "Liberation Sans Narrow", "titleFont": "Liberation Sans Narrow", "labelFontSize": 8.5, "titleFontSize": 15, "tickSize": 4, "tickColor": "#333333"}}},
      "layer": [
        {"mark": {"type": "area", "clip": true, "fillOpacity": 0.22}, "encoding": {"y": {"field": "lo", "type": "quantitative", "title": null, "scale": {"domain": [0.38, 5.72], "nice": false, "zero": false}, "axis": {"values": [1,2,3,4,5], "labelFont": "Liberation Sans Narrow", "labelFontSize": 8.5, "tickSize": 4, "tickColor": "#333333"}}, "y2": {"field": "hi"}, "color": {"field": "m", "type": "nominal", "scale": {"domain": ["M=1","M=50","M=100","M=300","M=500","M=1000"], "range": ["#a6d854","#66c2a5","#fc8d62","#000000","#e78ac3","#8da0cb"]}}}},
        {"mark": {"type": "line", "clip": true, "strokeWidth": 1.5}, "encoding": {"y": {"field": "y", "type": "quantitative", "title": null}, "color": {"field": "m", "type": "nominal", "scale": {"domain": ["M=1","M=50","M=100","M=300","M=500","M=1000"], "range": ["#a6d854","#66c2a5","#fc8d62","#000000","#e78ac3","#8da0cb"]}, "legend": {"orient": "bottom-right", "title": null, "columns": 2, "columnPadding": 8, "rowPadding": 1, "symbolType": "M-2,0H2", "symbolSize": 121, "symbolStrokeWidth": 2, "symbolOpacity": 1, "labelOffset": 8, "labelFont": "Liberation Sans Narrow", "labelFontSize": 12, "strokeColor": "#cccccc", "fillColor": "white", "padding": 5, "cornerRadius": 3, "offset": 6}}}}
      ]
    },
    {
      "width": 201, "height": 187,
      "title": {"text": "Acrobot-v1", "fontSize": 12.5, "fontWeight": "normal", "offset": 3},
      "data": {"name": "acro"},
      "encoding": {"x": {"field": "x", "type": "quantitative", "scale": {"domain": [0, 5], "nice": false}, "axis": {"values": [0,1,2,3,4,5], "title": "Env step (1M)", "labelFontSize": 11, "titleFontSize": 11, "labelPadding": 4}}},
      "layer": [
        {"mark": {"type": "area", "clip": true}, "encoding": {"y": {"field": "lo", "type": "quantitative", "title": null, "scale": {"domain": [-75, -59.75], "nice": false, "zero": false}, "axis": {"values": [-74,-72,-70,-68,-66,-64,-62,-60], "format": "d", "labelFontSize": 10.5, "labelOverlap": false, "labelBound": false}}, "y2": {"field": "hi"}, "color": {"field": "m", "type": "nominal", "scale": {"domain": ["M=1","M=5","M=100","M=50","M=500","M=300"], "range": ["#a6d854","#ffd92f","#fc8d62","#66c2a5","#e78ac3","#000000"]}}, "fillOpacity": {"field": "m", "type": "nominal", "scale": {"domain": ["M=1","M=5","M=100","M=50","M=500","M=300"], "range": [0.13, 0.2, 0.25, 0.25, 0.25, 0.2]}, "legend": null}}},
        {"mark": {"type": "line", "clip": true, "strokeWidth": 1.5}, "encoding": {"y": {"field": "y", "type": "quantitative", "title": null, "axis": {"values": [-74,-72,-70,-68,-66,-64,-62,-60], "format": "d", "labelFontSize": 10.5, "labelOverlap": false, "labelBound": false}}, "color": {"field": "m", "type": "nominal", "scale": {"domain": ["M=1","M=5","M=100","M=50","M=500","M=300"], "range": ["#a6d854","#ffd92f","#fc8d62","#66c2a5","#e78ac3","#000000"]}, "legend": {"orient": "bottom-right", "title": null, "rowPadding": 5, "symbolType": "M-2,0H2", "symbolSize": 144, "symbolStrokeWidth": 2, "symbolOpacity": 1, "labelOffset": 9, "labelFontSize": 11, "strokeColor": "#cccccc", "fillColor": "white", "padding": 5, "cornerRadius": 3, "offset": 5}}}}
      ]
    }
    ]
  }
  ]
}
]
}
